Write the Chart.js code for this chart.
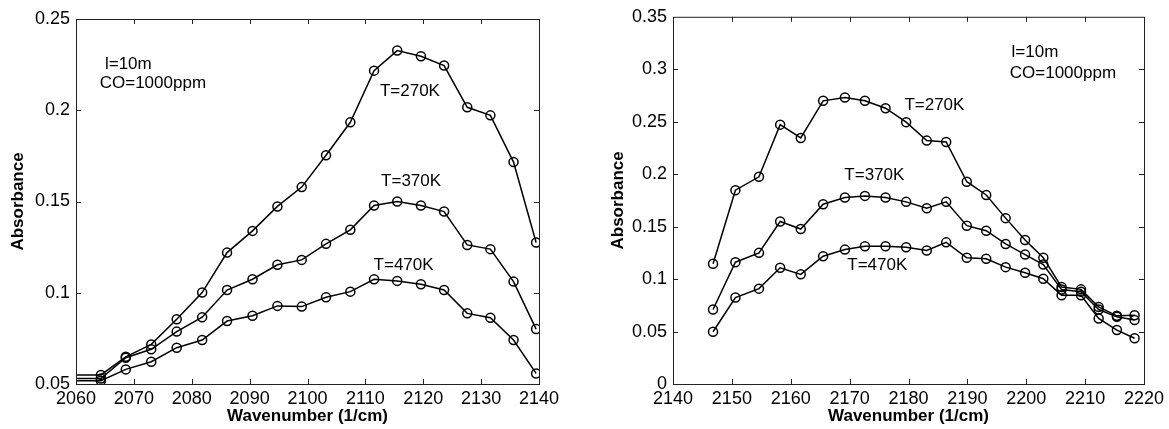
<!DOCTYPE html>
<html>
<head>
<meta charset="utf-8">
<script src="https://cdn.jsdelivr.net/npm/chart.js@4/dist/chart.umd.min.js"></script>
<style>
  html, body { margin: 0; padding: 0; background: #fff; }
  .box { position: absolute; top: 0; height: 429px; }
</style>
</head>
<body>
<div class="box" style="left:0;width:585px"><canvas id="left" width="585" height="429"></canvas></div>
<div class="box" style="left:600px;width:569px"><canvas id="right" width="569" height="429"></canvas></div>
<script>
// left panel: 2060-2140 cm-1 (first entry is the flat lead-in at the axis edge)
const leftWave = [2060, 2064.3, 2068.6, 2073.0, 2077.4, 2081.8, 2086.1, 2090.5, 2094.8, 2099.0, 2103.2, 2107.4, 2111.5, 2115.5, 2119.6, 2123.6, 2127.6, 2131.6, 2135.6, 2139.5];
const left270 = [0.055, 0.055, 0.0649, 0.0717, 0.0855, 0.1001, 0.122, 0.1339, 0.1473, 0.1579, 0.1753, 0.1934, 0.2217, 0.2327, 0.2296, 0.2245, 0.2016, 0.1972, 0.1716, 0.1275];
const left370 = [0.053, 0.053, 0.0644, 0.069, 0.0787, 0.0866, 0.1015, 0.1074, 0.1153, 0.118, 0.1268, 0.1345, 0.1478, 0.150, 0.1478, 0.1445, 0.1262, 0.1239, 0.1061, 0.0801];
const left470 = [0.0518, 0.0518, 0.058, 0.0622, 0.0699, 0.0741, 0.0845, 0.0874, 0.0928, 0.0924, 0.0975, 0.1006, 0.1074, 0.1065, 0.1047, 0.1015, 0.0887, 0.0863, 0.0741, 0.0558];

// right panel: 2140-2220 cm-1
const rightWave = [2146.8, 2150.6, 2154.6, 2158.2, 2161.7, 2165.5, 2169.2, 2172.6, 2176.1, 2179.6, 2183.1, 2186.4, 2189.9, 2193.2, 2196.5, 2199.8, 2202.9, 2206.0, 2209.3, 2212.3, 2215.4, 2218.4];
const right270 = [0.1146, 0.1847, 0.1975, 0.2472, 0.2345, 0.2699, 0.273, 0.2699, 0.2629, 0.2496, 0.232, 0.2307, 0.1928, 0.1802, 0.1581, 0.1373, 0.1203, 0.0924, 0.0902, 0.0735, 0.065, 0.0656];
const right370 = [0.071, 0.1161, 0.125, 0.1549, 0.1477, 0.1714, 0.1777, 0.1793, 0.1777, 0.1736, 0.1676, 0.1736, 0.1509, 0.1461, 0.1335, 0.1234, 0.1139, 0.090, 0.088, 0.071, 0.064, 0.061];
const right470 = [0.0498, 0.0824, 0.0909, 0.1108, 0.1045, 0.1218, 0.1281, 0.1313, 0.1313, 0.1303, 0.1272, 0.135, 0.1203, 0.1193, 0.1114, 0.1061, 0.1004, 0.0846, 0.0846, 0.0625, 0.0514, 0.0436];

const seriesNames = ['T=270K', 'T=370K', 'T=470K'];

// text annotations, placed in data units
const leftNotes = [
  { text: 'l=10m', x: 2065.0, y: 0.225, align: 'left' },
  { text: 'CO=1000ppm', x: 2064.1, y: 0.2146, align: 'left' },
  { text: 'T=270K', x: 2117.7, y: 0.2104, align: 'center' },
  { text: 'T=370K', x: 2117.9, y: 0.161, align: 'center' },
  { text: 'T=470K', x: 2116.6, y: 0.1153, align: 'center' }
];
const rightNotes = [
  { text: 'l=10m', x: 2197.5, y: 0.3166, align: 'left' },
  { text: 'CO=1000ppm', x: 2197.2, y: 0.296, align: 'left' },
  { text: 'T=270K', x: 2179.3, y: 0.2654, align: 'left' },
  { text: 'T=370K', x: 2169.1, y: 0.1991, align: 'left' },
  { text: 'T=470K', x: 2169.6, y: 0.113, align: 'left' }
];

const FONT = "'Liberation Sans', Arial, sans-serif";

// box around the plot with inward tick marks on all four sides
const framePlugin = {
  id: 'frame',
  afterDatasetsDraw(chart) {
    const { ctx, chartArea: a, scales } = chart;
    ctx.save();
    ctx.strokeStyle = '#222';
    ctx.lineWidth = 1;
    ctx.strokeRect(a.left + 0.5, a.top + 0.5, a.right - a.left, a.bottom - a.top);
    const len = 5;
    ctx.beginPath();
    scales.x.ticks.forEach(t => {
      const px = Math.round(scales.x.getPixelForValue(t.value)) + 0.5;
      if (px <= a.left + 1 || px >= a.right - 1) return;
      ctx.moveTo(px, a.bottom); ctx.lineTo(px, a.bottom - len);
      ctx.moveTo(px, a.top); ctx.lineTo(px, a.top + len);
    });
    scales.y.ticks.forEach(t => {
      const py = Math.round(scales.y.getPixelForValue(t.value)) + 0.5;
      if (py <= a.top + 1 || py >= a.bottom - 1) return;
      ctx.moveTo(a.left, py); ctx.lineTo(a.left + len, py);
      ctx.moveTo(a.right, py); ctx.lineTo(a.right - len, py);
    });
    ctx.stroke();
    ctx.restore();
  }
};

const notesPlugin = {
  id: 'notes',
  afterDatasetsDraw(chart, args, opts) {
    const { ctx, scales } = chart;
    ctx.save();
    ctx.fillStyle = '#000';
    ctx.font = '17px ' + FONT;
    ctx.textBaseline = 'middle';
    (opts.items || []).forEach(n => {
      ctx.textAlign = n.align;
      ctx.fillText(n.text, scales.x.getPixelForValue(n.x), scales.y.getPixelForValue(n.y));
    });
    ctx.restore();
  }
};

function makeSets(xs, ys) {
  return ys.map((vals, i) => ({
    label: seriesNames[i],
    data: vals.map((v, j) => ({ x: xs[j], y: v })),
    borderColor: '#000',
    borderWidth: 1.5,
    pointRadius: 4.5,
    pointBorderWidth: 1.5,
    pointBorderColor: '#000',
    pointBackgroundColor: 'rgba(0,0,0,0)',
    tension: 0
  }));
}

function makeChart(id, sets, opt) {
  return new Chart(document.getElementById(id), {
    type: 'line',
    data: { datasets: sets },
    options: {
      responsive: false,
      animation: false,
      layout: { padding: { top: opt.top, right: opt.right, left: 0, bottom: 0 } },
      plugins: {
        legend: { display: false },
        tooltip: { enabled: false },
        notes: { items: opt.notes }
      },
      scales: {
        x: {
          type: 'linear',
          min: opt.xMin, max: opt.xMax,
          grid: { display: false, drawTicks: false },
          border: { display: false },
          afterFit: s => { s.height = 45; },
          ticks: {
            stepSize: 10, padding: 4, color: '#000',
            font: { family: FONT, size: 18 },
            maxRotation: 0,
            callback: v => String(v)
          },
          title: {
            display: true, text: 'Wavenumber (1/cm)', color: '#000',
            font: { family: FONT, size: 17, weight: 'bold' },
            padding: { top: 0, bottom: 2 }
          }
        },
        y: {
          min: opt.yMin, max: opt.yMax,
          grid: { display: false, drawTicks: false },
          border: { display: false },
          afterFit: s => { s.width = opt.yWidth; },
          ticks: {
            stepSize: 0.05, padding: 6, color: '#000',
            font: { family: FONT, size: 18 },
            callback: v => String(+v.toFixed(2))
          },
          title: {
            display: true, text: 'Absorbance', color: '#000',
            font: { family: FONT, size: 17, weight: 'bold' },
            padding: { top: 8, bottom: 0 }
          }
        }
      }
    },
    plugins: [framePlugin, notesPlugin]
  });
}

const leftSets = makeSets(leftWave, [left270, left370, left470]);
leftSets.forEach(s => { s.pointRadius = c => (c.dataIndex === 0 ? 0 : 4.5); });

makeChart('left', leftSets, {
  top: 19, right: 46, yWidth: 76,
  xMin: 2060, xMax: 2140, yMin: 0.05, yMax: 0.25, notes: leftNotes
});

makeChart('right', makeSets(rightWave, [right270, right370, right470]), {
  top: 15, right: 25, yWidth: 73,
  xMin: 2140, xMax: 2220, yMin: 0, yMax: 0.35, notes: rightNotes
});
</script>
</body>
</html>
